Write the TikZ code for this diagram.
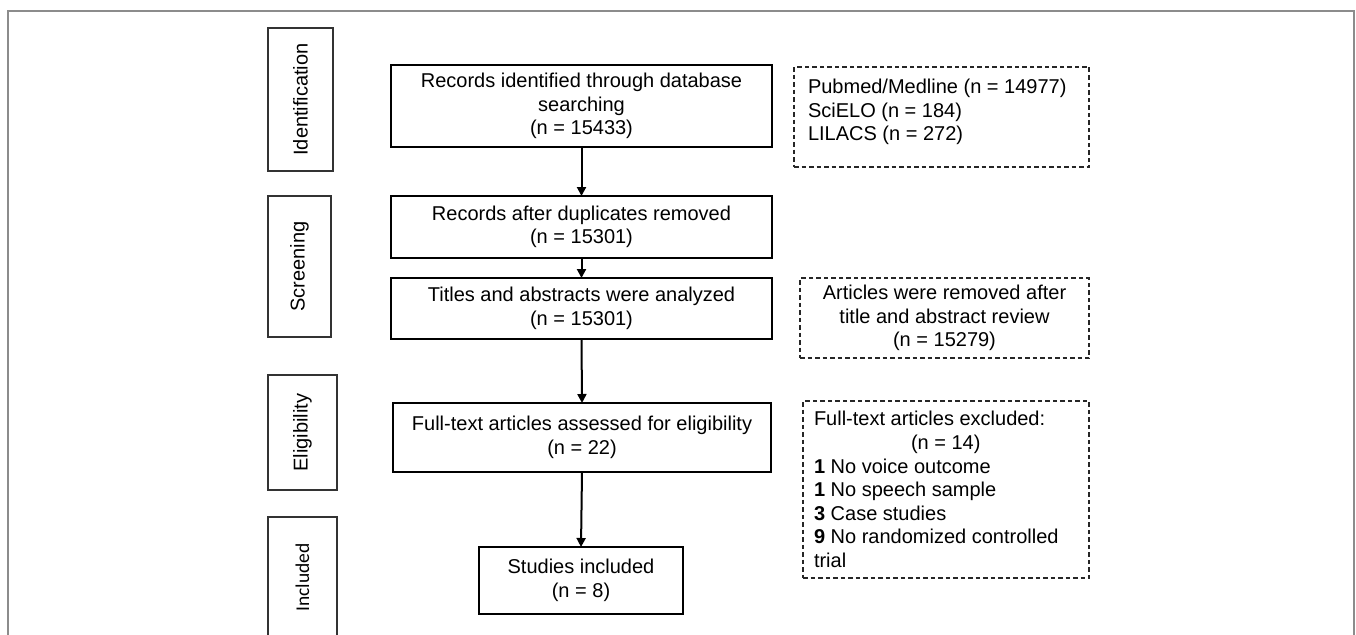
\documentclass[tikz,border=0pt]{standalone}
\usepackage{fontspec}
\setmainfont{Liberation Sans}
\newfontfamily\carlfont{Carlito}
\usetikzlibrary{arrows.meta}
\begin{document}
\begin{tikzpicture}[x=1pt,y=-1pt,
  every node/.style={font=\fontsize{20}{23.6}\selectfont, inner sep=0pt, outer sep=0pt},
  sidebox/.style={draw=black!80, line width=1.1pt, rotate=90},
  mainbox/.style={draw=black, line width=2.2pt, align=center},
  dashbox/.style={draw=black!85, line width=1.2pt, dash pattern=on 4.5pt off 3pt},
  arr/.style={draw=black, line width=2pt, -{Triangle[width=9pt,length=9pt]}}]
\useasboundingbox (0,0) rectangle (1356,634);
\clip (0,0) rectangle (1356,634);
% outer frame
\draw[black!45, line width=1.3pt] (8,650) -- (8,11) -- (1354,11) -- (1354,650);
% side labels
\node[sidebox, minimum width=143pt, minimum height=65pt] (sid) at (300.5,99.5) {Identification};
\node[sidebox, minimum width=141pt, minimum height=63pt] (sscr) at (299.5,266.5) {Screening};
\node[sidebox, minimum width=115pt, minimum height=69pt] (seli) at (302.5,432.5) {Eligibility};
\node[sidebox, minimum width=121pt, minimum height=69pt, font=\carlfont\fontsize{19.5}{23}\selectfont] (sinc) at (302.5,577.5) {Included};
% main flow
\node[mainbox, minimum width=381pt, minimum height=82pt] (b1) at (581.5,106) {Records identified through database\\searching\\(n = 15433)};
\node[mainbox, minimum width=381pt, minimum height=62pt] (b2) at (581.5,227) {Records after duplicates removed\\(n = 15301)};
\node[mainbox, minimum width=381pt, minimum height=61pt] (b3) at (581.5,308.5) {Titles and abstracts were analyzed\\(n = 15301)};
\node[mainbox, minimum width=378pt, minimum height=69pt] (b4) at (582,437.5) {Full-text articles assessed for eligibility\\(n = 22)};
\node[mainbox, minimum width=204pt, minimum height=67pt] (b5) at (581,580.5) {Studies included\\(n = 8)};
\draw[arr] (b1.south) -- (b2.north);
\draw[arr] (b2.south) -- (b3.north);
\draw[arr] (b3.south) -- (b4.north);
\draw[arr] (b4.south) -- (b5.north);
% side dashed boxes
\node[dashbox, anchor=north west] (dA) at (794,67) {\parbox[c][100pt][t]{295pt}{\raggedright\leftskip=14pt\vspace*{12pt}Pubmed/Medline (n = 14977)\\SciELO (n = 184)\\LILACS (n = 272)}};
\node[dashbox, align=center, minimum width=289pt, minimum height=80pt] (dB) at (944.5,318) {Articles were removed after\\title and abstract review\\(n = 15279)};
\node[dashbox, minimum width=286pt, minimum height=177pt] (dC) at (946,489.5) {\parbox{286pt}{\raggedright\leftskip=11pt Full-text articles excluded:\\\hspace*{97pt}(n = 14)\\\textbf{1} No voice outcome\\\textbf{1} No speech sample\\\textbf{3} Case studies\\\textbf{9} No randomized controlled\\trial}};
\end{tikzpicture}
\end{document}
